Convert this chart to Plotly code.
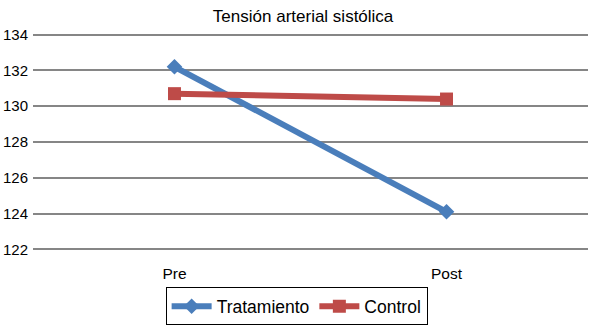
import plotly.graph_objects as go

categories = ["Pre", "Post"]
tratamiento = [132.2, 124.1]
control = [130.7, 130.4]
title = "Tensión arterial sistólica"

fig = go.Figure()
fig.add_trace(go.Scatter(
    x=categories, y=tratamiento, name="Tratamiento", mode="lines+markers",
    line=dict(color="#4a7ebb", width=6),
    marker=dict(symbol="diamond", size=12, color="#4a7ebb"),
))
fig.add_trace(go.Scatter(
    x=categories, y=control, name="Control", mode="lines+markers",
    line=dict(color="#be4b48", width=6),
    marker=dict(symbol="square", size=13, color="#be4b48"),
))

fig.update_layout(
    width=592, height=326,
    margin=dict(l=33, r=4, t=31.4, b=73.4, autoexpand=False),
    paper_bgcolor="white", plot_bgcolor="white",
    font=dict(family="Liberation Sans, Arial, sans-serif", size=15, color="black"),
    title=dict(text=title, x=0.512, xanchor="center", y=0.951, yanchor="middle",
               font=dict(size=17)),
    showlegend=True,
    legend=dict(orientation="h", x=0.475, xanchor="center", y=-0.155, yanchor="top",
                bordercolor="black", borderwidth=1, font=dict(size=17.5),
                itemwidth=40, tracegroupgap=0),
    xaxis=dict(showgrid=False, showline=False, ticks="", zeroline=False,
               range=[-0.52, 1.52], ticklabelstandoff=9, automargin=False,
               tickfont=dict(size=15.5)),
    yaxis=dict(range=[121.8, 134.2], tickvals=[122, 124, 126, 128, 130, 132, 134],
               showgrid=True, gridcolor="#868686",
               gridwidth=2, zeroline=False, showline=False, ticks="",
               ticklabelstandoff=4, automargin=False),
)

fig.write_html("out.html", config={"displayModeBar": False},
               post_script="document.body.style.margin='0';")
